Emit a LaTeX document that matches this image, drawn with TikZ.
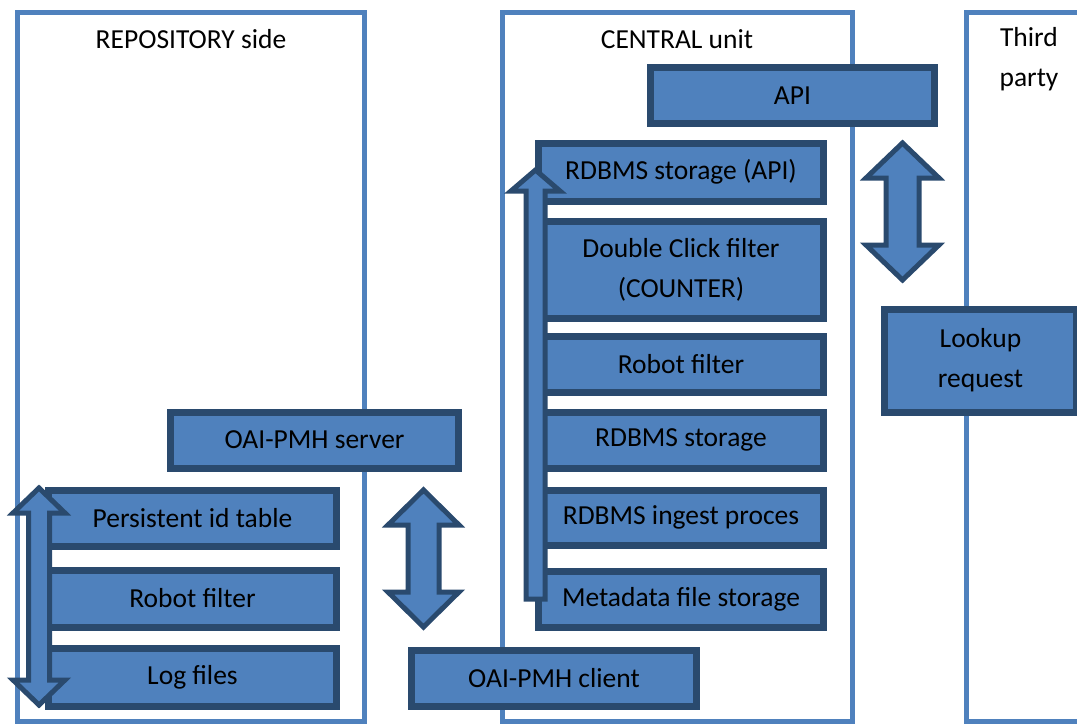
\documentclass[tikz,border=0pt]{standalone}
\usepackage{fontspec}
\setmainfont{Carlito}
\definecolor{bfill}{HTML}{4F81BD}
\definecolor{bdark}{HTML}{2A4A6E}
\definecolor{frame}{HTML}{4F81BD}
\newcommand\vdarrow[6]{% cx, ytop, ybot, shaft half, head half, head length
  \draw[blockarrow] (#1,#2) -- ({#1+#5},{#2+#6}) -- ({#1+#4},{#2+#6}) -- ({#1+#4},{#3-#6}) -- ({#1+#5},{#3-#6}) -- (#1,#3)
    -- ({#1-#5},{#3-#6}) -- ({#1-#4},{#3-#6}) -- ({#1-#4},{#2+#6}) -- ({#1-#5},{#2+#6}) -- cycle;}
\begin{document}
\begin{tikzpicture}[x=1pt,y=-1pt,
  every node/.style={font=\fontsize{27.5}{40}\selectfont},
  box/.style={draw=bdark, fill=bfill, line width=7pt, inner sep=0pt, align=center, text=black, line join=miter},
  col/.style={draw=frame, line width=5pt},
  title/.style={align=center, text=black},
  blockarrow/.style={draw=bdark, fill=bfill, line width=5pt, line join=miter}]
\useasboundingbox (0,0) rectangle (1077,725);
\clip (0,0) rectangle (1077,725);
% columns
\draw[col] (17.5,12.5) rectangle (364.5,721);
\draw[col] (502.5,12.5) rectangle (852.5,721);
\draw[col] (966.5,12.5) rectangle (1090,721);
\node[title] (trepo) at (191,39) {REPOSITORY side};
\node[title] (tcentral) at (677,39) {CENTRAL unit};
\node[title] (tthird) at (1029,59) {Third\\party};
% central unit boxes
\node[box, minimum width=284pt, minimum height=56pt] (api) at (792.5,95.5) {API};
\node[box, minimum width=285pt, minimum height=58pt] (rdbmsapi) at (681,172) {RDBMS storage (API)};
\node[box, minimum width=285pt, minimum height=97pt] (dclick) at (681,269.5) {Double Click filter\\(COUNTER)};
\node[box, minimum width=285pt, minimum height=56pt] (robotc) at (681,364) {Robot filter};
\node[box, minimum width=285pt, minimum height=56pt] (rdbms) at (681,440) {RDBMS storage};
\node[box, minimum width=285pt, minimum height=55pt] (ingest) at (681,517.5) {RDBMS ingest proces};
\node[box, minimum width=285pt, minimum height=56pt] (meta) at (681,599) {Metadata file storage};
% third party
\node[box, minimum width=192pt, minimum height=103pt] (lookup) at (980.5,360.5) {Lookup\\request};
% repository side
\node[box, minimum width=288pt, minimum height=56pt] (oaiserver) at (314.5,440) {OAI-PMH server};
\node[box, minimum width=288pt, minimum height=56pt] (persist) at (192.5,518) {Persistent id table};
\node[box, minimum width=288pt, minimum height=57pt] (robotr) at (192.5,598.5) {Robot filter};
\node[box, minimum width=288pt, minimum height=58pt] (logs) at (192.5,677) {Log files};
\node[box, minimum width=285pt, minimum height=56pt] (client) at (554,678) {OAI-PMH client};
% block arrows
\vdarrow{39}{488}{705}{10.5}{26}{25}
\vdarrow{423.5}{490}{627}{15.5}{35.5}{35}
\vdarrow{902.5}{143}{280}{16.5}{36.5}{35}
\draw[blockarrow] (535.5,170) -- (560,191) -- (545,191) -- (545,599) -- (526,599) -- (526,191) -- (511,191) -- cycle;
\end{tikzpicture}
\end{document}
